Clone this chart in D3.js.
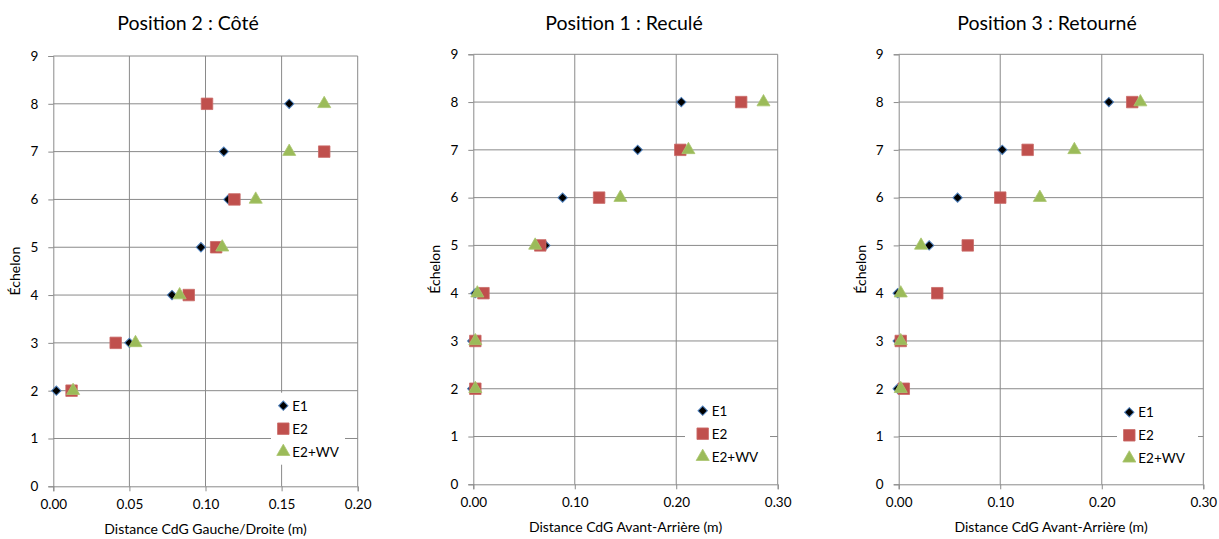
<!DOCTYPE html>
<html>
<head>
<meta charset="utf-8">
<script src="https://cdn.jsdelivr.net/npm/d3@7/dist/d3.min.js"></script>
<style>
  html, body { margin: 0; padding: 0; background: #fff; }
  svg { display: block; }
  text { font-family: Lato, "Open Sans", sans-serif; fill: #000; }
</style>
</head>
<body>
<svg id="chart" width="1219" height="539"></svg>
<script>
// Échelons (y) shared by every panel
const echelons = [2, 3, 4, 5, 6, 7, 8];
const seriesNames = ["E1", "E2", "E2+WV"];
const yTickValues = [0, 1, 2, 3, 4, 5, 6, 7, 8, 9];
const xTicksCote = [0, 0.05, 0.10, 0.15, 0.20];
const xTicksAvantArriere = [0, 0.10, 0.20, 0.30];

// Position 2 : Côté — distance gauche/droite (m)
const coteE1   = [0.002, 0.050, 0.078, 0.097, 0.115, 0.112, 0.155];
const coteE2   = [0.012, 0.041, 0.089, 0.107, 0.119, 0.178, 0.101];
const coteE2WV = [0.013, 0.054, 0.083, 0.111, 0.133, 0.155, 0.178];

// Position 1 : Reculé — distance avant-arrière (m)
const reculeE1   = [-0.001, -0.001, 0.002, 0.071, 0.088, 0.162, 0.205];
const reculeE2   = [0.002, 0.002, 0.010, 0.066, 0.124, 0.204, 0.264];
const reculeE2WV = [0.002, 0.002, 0.004, 0.061, 0.145, 0.212, 0.286];

// Position 3 : Retourné — distance avant-arrière (m)
const retourneE1   = [-0.001, -0.001, -0.001, 0.030, 0.058, 0.102, 0.207];
const retourneE2   = [0.005, 0.002, 0.038, 0.068, 0.100, 0.127, 0.230];
const retourneE2WV = [0.002, 0.002, 0.002, 0.022, 0.139, 0.173, 0.238];

const panels = [
  { title: "Position 2 : Côté", xLabel: "Distance CdG Gauche/Droite (m)",
    xMax: 0.20, xTicks: xTicksCote, series: [coteE1, coteE2, coteE2WV],
    box: { left: 53.3, right: 357.7, top: 56, bottom: 486.3 },
    titleX: 188, legend: { x: 283.3, y: 405.7, boxL: 271, boxR: 345 } },
  { title: "Position 1 : Reculé", xLabel: "Distance CdG Avant-Arrière (m)",
    xMax: 0.30, xTicks: xTicksAvantArriere, series: [reculeE1, reculeE2, reculeE2WV],
    box: { left: 473.3, right: 777.7, top: 54.3, bottom: 484.3 },
    titleX: 624, legend: { x: 702.7, y: 410.7, boxL: 685, boxR: 770 } },
  { title: "Position 3 : Retourné", xLabel: "Distance CdG Avant-Arrière (m)",
    xMax: 0.30, xTicks: xTicksAvantArriere, series: [retourneE1, retourneE2, retourneE2WV],
    box: { left: 898.7, right: 1203.3, top: 54.3, bottom: 484.3 },
    titleX: 1047, legend: { x: 1129.3, y: 412.3, boxL: 1117, boxR: 1198 } }
];

const gridColor = "#8a8a8a";
const markerStyles = [
  { type: d3.symbolSquare, size: 44, rotate: 45, fill: "#000000", stroke: "#4f81bd", sw: 1 },
  { type: d3.symbolSquare, size: 132, rotate: 0, fill: "#c0504d", stroke: "#c96a67", sw: 0.8 },
  { type: d3.symbolTriangle, size: 74, rotate: 0, fill: "#9bbb59", stroke: "#a9c56f", sw: 0.8 }
];

const svg = d3.select("#chart");

function drawMarker(g, style, cx, cy) {
  g.append("path")
    .attr("d", d3.symbol().type(style.type).size(style.size)())
    .attr("transform", `translate(${cx},${cy}) rotate(${style.rotate})`)
    .attr("fill", style.fill)
    .attr("stroke", style.stroke)
    .attr("stroke-width", style.sw);
}

panels.forEach(p => {
  const g = svg.append("g");
  const x = d3.scaleLinear().domain([0, p.xMax]).range([p.box.left, p.box.right]);
  const y = d3.scaleLinear().domain([0, 9]).range([p.box.bottom, p.box.top]);

  // gridlines
  g.append("g").selectAll("line.h").data(yTickValues.filter(v => v > 0)).join("line")
    .attr("x1", p.box.left).attr("x2", p.box.right)
    .attr("y1", d => y(d)).attr("y2", d => y(d))
    .attr("stroke", gridColor).attr("stroke-width", 1);
  g.append("g").selectAll("line.v").data(p.xTicks.filter(v => v > 0)).join("line")
    .attr("y1", p.box.top).attr("y2", p.box.bottom)
    .attr("x1", d => x(d)).attr("x2", d => x(d))
    .attr("stroke", gridColor).attr("stroke-width", 1);

  // axes
  const yAxis = g.append("g").attr("transform", `translate(${p.box.left},0)`)
    .call(d3.axisLeft(y).tickValues(yTickValues).tickSize(5).tickPadding(10).tickFormat(d3.format("d")));
  const xAxis = g.append("g").attr("transform", `translate(0,${p.box.bottom})`)
    .call(d3.axisBottom(x).tickValues(p.xTicks).tickSize(5).tickPadding(8).tickFormat(d3.format(".2f")));
  [yAxis, xAxis].forEach(a => {
    a.selectAll("path, line").attr("stroke", gridColor);
    a.selectAll("text").style("font-size", "13.5px").attr("fill", "#000");
  });

  // titles
  g.append("text").attr("x", p.titleX).attr("y", 30)
    .attr("text-anchor", "middle").style("font-size", "19.5px").text(p.title);
  g.append("text").attr("x", (p.box.left + p.box.right) / 2).attr("y", p.box.bottom + 48)
    .attr("text-anchor", "middle").style("font-size", "14px").text(p.xLabel);
  g.append("text")
    .attr("transform", `translate(${p.box.left - 33},${(p.box.top + p.box.bottom) / 2}) rotate(-90)`)
    .attr("text-anchor", "middle").style("font-size", "14px").text("Échelon");

  // points, series in order so later series sit on top
  p.series.forEach((vals, si) => {
    const sg = g.append("g");
    vals.forEach((v, i) => drawMarker(sg, markerStyles[si], x(v), y(echelons[i])));
  });

  // legend
  const lg = g.append("g");
  const rowH = 23;
  lg.append("rect")
    .attr("x", p.legend.boxL).attr("y", p.legend.y - 13)
    .attr("width", p.legend.boxR - p.legend.boxL).attr("height", rowH * 3 + 3)
    .attr("fill", "#fff");
  seriesNames.forEach((name, si) => {
    const cy = p.legend.y + si * rowH;
    drawMarker(lg, markerStyles[si], p.legend.x, cy);
    lg.append("text").attr("x", p.legend.x + 9).attr("y", cy + 5)
      .style("font-size", "13.5px").text(name);
  });
});
</script>
</body>
</html>
